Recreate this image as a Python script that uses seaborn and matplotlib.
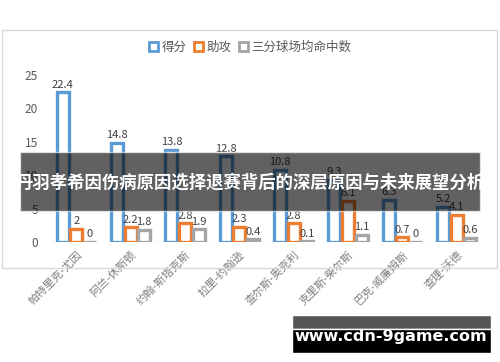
import pandas as pd
import numpy as np
import matplotlib.pyplot as plt
import seaborn as sns
from matplotlib.patches import Rectangle, Patch

# data
players = ['帕特里克-尤因', '阿兰-休斯顿', '约翰-斯塔克斯', '拉里-约翰逊',
           '查尔斯-奥克利', '克里斯-柴尔斯', '巴克-威廉姆斯', '查理-沃德']
points = [22.4, 14.8, 13.8, 12.8, 10.8, 9.3, 6.3, 5.2]
assists = [2, 2.2, 2.8, 2.3, 2.8, 6.1, 0.7, 4.1]
threes = [0, 1.8, 1.9, 0.4, 0.1, 1.1, 0, 0.6]
series = ['得分', '助攻', '三分球场均命中数']
colors = ['#5B9BD5', '#ED7D31', '#A5A5A5']

df = pd.DataFrame({'球员': players, series[0]: points, series[1]: assists, series[2]: threes})
long = df.melt(id_vars='球员', var_name='项目', value_name='数值')

sns.set_style('white')
plt.rcParams['font.family'] = ['Noto Sans CJK SC', 'DejaVu Sans']

fig = plt.figure(figsize=(5, 3.62), dpi=100)
ax = fig.add_axes([0.098, 0.3315, 0.87, 0.4613])

sns.barplot(data=long, x='球员', y='数值', hue='项目', hue_order=series,
            palette=colors, fill=False, width=0.75, gap=0.12, linewidth=2.4,
            errorbar=None, legend=False, ax=ax)

for cont in ax.containers:
    ax.bar_label(cont, fmt='%g', padding=2, fontsize=8, color='#404040')

ax.set_ylim(0, 25)
ax.set_yticks([0, 5, 10, 15, 20, 25])
ax.set_xlim(-0.5, 7.5)
ax.set_xlabel('')
ax.set_ylabel('')
ax.tick_params(axis='y', labelsize=8.5, labelcolor='#595959', length=0, pad=8)
ax.tick_params(axis='x', labelsize=8, labelcolor='#7f7f7f', length=0, pad=5)
plt.setp(ax.get_xticklabels(), rotation=45, ha='right', rotation_mode='anchor')
sns.despine(ax=ax, left=True, bottom=True, top=True, right=True)
ax.axhline(0, color='#d9d9d9', lw=0.8, zorder=0)

handles = [Patch(facecolor='white', edgecolor=c, linewidth=2) for c in colors]
fig.legend(handles, series, loc='center', bbox_to_anchor=(0.5, 1 - 47 / 362), ncol=3,
           frameon=False, fontsize=9, labelcolor='#595959', handlelength=0.7,
           handleheight=0.7, handletextpad=0.3, columnspacing=0.6)

# chart frame
fig.patches.append(Rectangle((2 / 500, 1 - 268 / 362), 495 / 500, 238 / 362,
                             transform=fig.transFigure, fill=False,
                             edgecolor='#d9d9d9', lw=1, zorder=0))

# dark title banner
fig.patches.append(Rectangle((20 / 500, 1 - 211 / 362), 460 / 500, 59 / 362,
                             transform=fig.transFigure, facecolor='#000000',
                             alpha=0.62, zorder=10))
fig.text(0.5, 1 - 183 / 362, '丹羽孝希因伤病原因选择退赛背后的深层原因与未来展望分析',
         ha='center', va='center', color='white', fontsize=12.5, fontweight='bold',
         zorder=11)

# watermark
fig.patches.append(Rectangle((292 / 500, 1 - 329 / 362), 199 / 500, 14 / 362,
                             transform=fig.transFigure, facecolor='#555555', zorder=10))
fig.patches.append(Rectangle((292 / 500, 1 - 353 / 362), 199 / 500, 24 / 362,
                             transform=fig.transFigure, facecolor='#000000', zorder=10))
fig.text(391 / 500, 1 - 337 / 362, 'www.cdn-9game.com', ha='center', va='center',
         color='white', fontsize=11.5, fontweight='bold', family='DejaVu Sans', zorder=11)

fig.savefig('out.png', dpi=100)
